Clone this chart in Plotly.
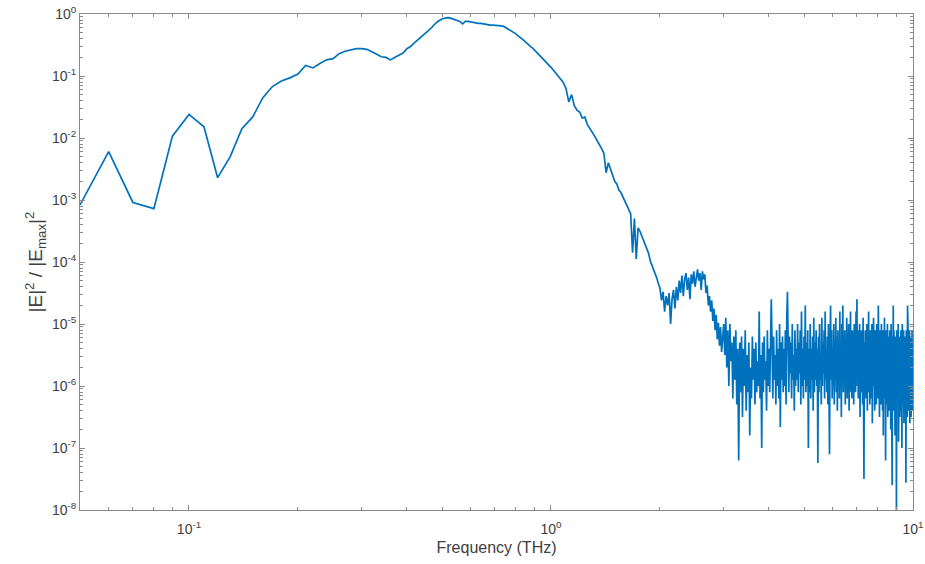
import numpy as np
import plotly.graph_objects as go

# Frequency grids (THz)
freq_low = np.round(np.arange(5, 100) * 0.01, 2)        # 0.05 .. 0.99
freq_mid = np.round(np.arange(50, 150) * 0.02, 2)       # 1.00 .. 2.98
freq_high = np.round(np.arange(150, 501) * 0.02, 2)     # 3.00 .. 10.00

# log10(|E|^2/|Emax|^2)
logp_low = [
    -3.08, -2.22, -3.04, -3.14, -1.97, -1.62, -1.82, -2.64, -2.30, -1.85,
    -1.66, -1.35, -1.17, -1.08, -1.03, -0.97, -0.83, -0.87, -0.80, -0.74,
    -0.72, -0.64, -0.60, -0.58, -0.56, -0.56, -0.57, -0.61, -0.65, -0.69,
    -0.70, -0.74, -0.70, -0.66, -0.63, -0.56, -0.52, -0.46, -0.41, -0.37,
    -0.32, -0.26, -0.21, -0.15, -0.11, -0.08, -0.065, -0.06, -0.07, -0.09,
    -0.10, -0.12, -0.16, -0.12, -0.12, -0.13, -0.13, -0.14, -0.15, -0.15,
    -0.16, -0.17, -0.17, -0.18, -0.18, -0.18, -0.19, -0.19, -0.19, -0.20,
    -0.22, -0.24, -0.26, -0.28, -0.30, -0.32, -0.35, -0.37, -0.40, -0.42,
    -0.45, -0.48, -0.50, -0.53, -0.55, -0.58, -0.60, -0.63, -0.66, -0.68,
    -0.71, -0.74, -0.77, -0.80, -0.83,
]
logp_mid = [
    -0.86, -0.92, -0.98, -1.04, -1.10, -1.20, -1.42, -1.30, -1.48, -1.55,
    -1.58, -1.68, -1.66, -1.78, -1.84, -1.92, -1.97, -2.04, -2.10, -2.17,
    -2.25, -2.56, -2.40, -2.50, -2.58, -2.70, -2.74, -2.84, -2.88, -2.95,
    -3.00, -3.08, -3.14, -3.22, -3.85, -3.30, -3.95, -3.45, -3.50, -3.58,
    -3.66, -3.72, -3.80, -3.86, -3.98, -4.05, -4.10, -4.20, -4.26, -4.35,
    -4.42, -4.62, -4.48, -4.80, -4.55, -4.70, -4.50, -5.00, -4.60, -4.45,
    -4.75, -4.40, -4.62, -4.30, -4.50, -4.22, -4.55, -4.28, -4.18, -4.45,
    -4.25, -4.60, -4.20, -4.35, -4.15, -4.40, -4.22, -4.12, -4.30, -4.18,
    -4.45, -4.15, -4.28, -4.20, -4.50, -4.38, -4.70, -4.55, -4.80, -4.62,
    -4.95, -4.75, -5.10, -4.85, -5.25, -4.98, -5.35, -5.05, -5.45, -5.15,
]
logp_high = [
    -5.0, -5.5, -4.9, -5.7, -5.1, -6.0, -5.0, -5.6, -5.3, -6.2,
    -5.2, -5.9, -5.1, -6.3, -5.4, -7.2, -5.3, -6.1, -5.2, -6.5,
    -5.4, -6.0, -5.1, -6.4, -5.5, -6.1, -5.3, -6.8, -5.7, -6.2,
    -5.2, -5.9, -5.4, -6.3, -5.3, -6.1, -5.6, -6.0, -4.8, -6.2,
    -5.5, -7.0, -5.3, -6.1, -5.2, -5.9, -5.6, -6.4, -5.1, -6.0,
    -5.4, -6.1, -5.0, -4.6, -5.3, -6.2, -5.2, -5.9, -5.5, -6.3,
    -5.1, -6.0, -5.4, -6.2, -5.0, -6.66, -5.3, -5.9, -5.2, -6.1,
    -5.4, -6.0, -5.1, -6.3, -4.9, -4.48, -5.3, -6.1, -5.2, -5.8,
    -5.3, -6.2, -5.0, -5.9, -5.5, -6.4, -5.1, -6.0, -5.4, -5.9,
    -5.0, -6.1, -5.3, -5.8, -5.1, -6.3, -4.8, -6.0, -5.4, -6.2,
    -5.2, -5.9, -4.7, -6.1, -5.3, -6.0, -5.1, -7.0, -5.4, -6.1,
    -5.0, -6.2, -5.4, -5.9, -5.2, -6.4, -4.9, -6.1, -5.3, -5.9,
    -5.1, -6.0, -5.4, -7.24, -5.2, -6.1, -5.0, -5.9, -5.5, -6.3,
    -4.9, -6.0, -5.3, -5.8, -5.1, -6.2, -4.8, -5.9, -5.4, -6.1,
    -5.2, -6.3, -5.0, -6.0, -7.1, -5.3, -4.7, -5.9, -5.1, -6.2,
    -5.4, -6.0, -5.0, -6.3, -5.3, -5.9, -4.9, -6.1, -5.2, -6.4,
    -5.1, -5.9, -5.4, -6.2, -4.8, -6.0, -5.3, -6.5, -5.0, -5.9,
    -4.7, -6.1, -5.2, -5.9, -5.1, -6.3, -5.4, -6.0, -4.9, -6.2,
    -5.3, -5.9, -5.0, -6.4, -5.2, -6.1, -4.8, -6.0, -5.4, -6.2,
    -5.1, -5.9, -5.3, -6.3, -5.0, -6.0, -5.2, -6.1, -4.8, -5.9,
    -4.6, -6.0, -5.1, -6.2, -5.4, -5.9, -5.0, -6.5, -5.3, -6.1,
    -5.1, -5.9, -5.4, -6.3, -4.9, -6.1, -7.5, -5.3, -6.0, -5.1,
    -6.2, -5.2, -5.9, -5.0, -6.4, -5.4, -6.0, -4.8, -6.1, -5.3,
    -6.3, -5.1, -5.9, -5.4, -6.2, -5.0, -6.6, -5.2, -6.0, -4.9,
    -6.1, -5.3, -6.4, -5.1, -5.9, -5.4, -6.3, -5.0, -6.0, -5.2,
    -6.2, -4.7, -5.9, -5.3, -6.5, -5.1, -6.1, -5.4, -6.3, -5.0,
    -6.0, -5.2, -6.4, -5.1, -6.8, -5.3, -6.1, -4.9, -6.2, -5.4,
    -7.2, -5.1, -6.3, -5.3, -6.0, -5.0, -6.5, -5.2, -6.1, -5.4,
    -6.4, -5.1, -6.0, -5.3, -6.7, -5.0, -6.2, -5.4, -7.6, -5.2,
    -6.1, -4.7, -6.4, -5.1, -6.0, -5.4, -6.8, -5.2, -6.2, -5.3,
    -8.1, -5.1, -6.3, -5.4, -6.1, -5.0, -6.9, -5.3, -6.2, -5.2,
    -6.5, -5.4, -6.0, -5.1, -6.4, -5.3, -7.0, -5.0, -6.1, -5.4,
    -6.3, -5.1, -6.6, -5.3, -6.0, -5.2, -6.4, -5.4, -7.56, -5.1,
    -6.2, -5.3, -6.5, -4.7, -6.1, -5.2, -6.4, -5.4, -6.0, -5.1,
    -6.6, -5.3, -6.1, -5.2, -6.5, -5.4, -6.2, -5.1, -6.4, -5.3,
    -5.9,
]

x_ticks = [0.1, 1, 10]
x_ticktext = ["10<sup>-1</sup>", "10<sup>0</sup>", "10<sup>1</sup>"]
y_exps = list(range(-8, 1))
y_ticks = [10.0 ** e for e in y_exps]
y_ticktext = ["10<sup>%d</sup>" % e for e in y_exps]

freq = np.concatenate([freq_low, freq_mid, freq_high])
power = 10.0 ** np.array(logp_low + logp_mid + logp_high)

minor_x = [m * 10.0 ** d for d in (-2, -1, 0) for m in range(2, 10)]
minor_y = [m * 10.0 ** d for d in range(-8, 0) for m in range(2, 10)]

FONT = "Liberation Sans, Arial, sans-serif"
GRAY = "#8a8a8a"
TXT = "#404040"

fig = go.Figure()
fig.add_trace(go.Scatter(x=freq, y=power, mode="lines",
                         line=dict(color="#0072BD", width=1.7),
                         showlegend=False))

axis_common = dict(
    type="log", showgrid=False, zeroline=False, showline=True,
    linecolor=GRAY, linewidth=1, mirror="ticks",
    ticks="inside", ticklen=5, tickcolor=GRAY, tickwidth=1,
    tickfont=dict(family=FONT, size=14, color=TXT),
)

fig.update_xaxes(**axis_common, range=[np.log10(0.05), 1],
                 tickmode="array", tickvals=x_ticks, ticktext=x_ticktext,
                 ticklabelstandoff=6,
                 minor=dict(tickmode="array", tickvals=minor_x, ticks="inside",
                            ticklen=3, tickcolor=GRAY, showgrid=False),
                 title=dict(text="Frequency (THz)", standoff=6,
                            font=dict(family=FONT, size=16, color=TXT)))
fig.update_yaxes(**axis_common, range=[-8, 0],
                 tickmode="array", tickvals=y_ticks, ticktext=y_ticktext,
                 minor=dict(tickmode="array", tickvals=minor_y, ticks="inside",
                            ticklen=3, tickcolor=GRAY, showgrid=False),
                 title=dict(text="|E|<sup>2</sup> / |E<sub>max</sub>|<sup>2</sup>",
                            standoff=4,
                            font=dict(family=FONT, size=19, color=TXT)))

fig.update_layout(width=925, height=564,
                  margin=dict(l=80, r=12, t=14, b=54, autoexpand=False),
                  plot_bgcolor="white", paper_bgcolor="white")

fig.write_html("out.html")
